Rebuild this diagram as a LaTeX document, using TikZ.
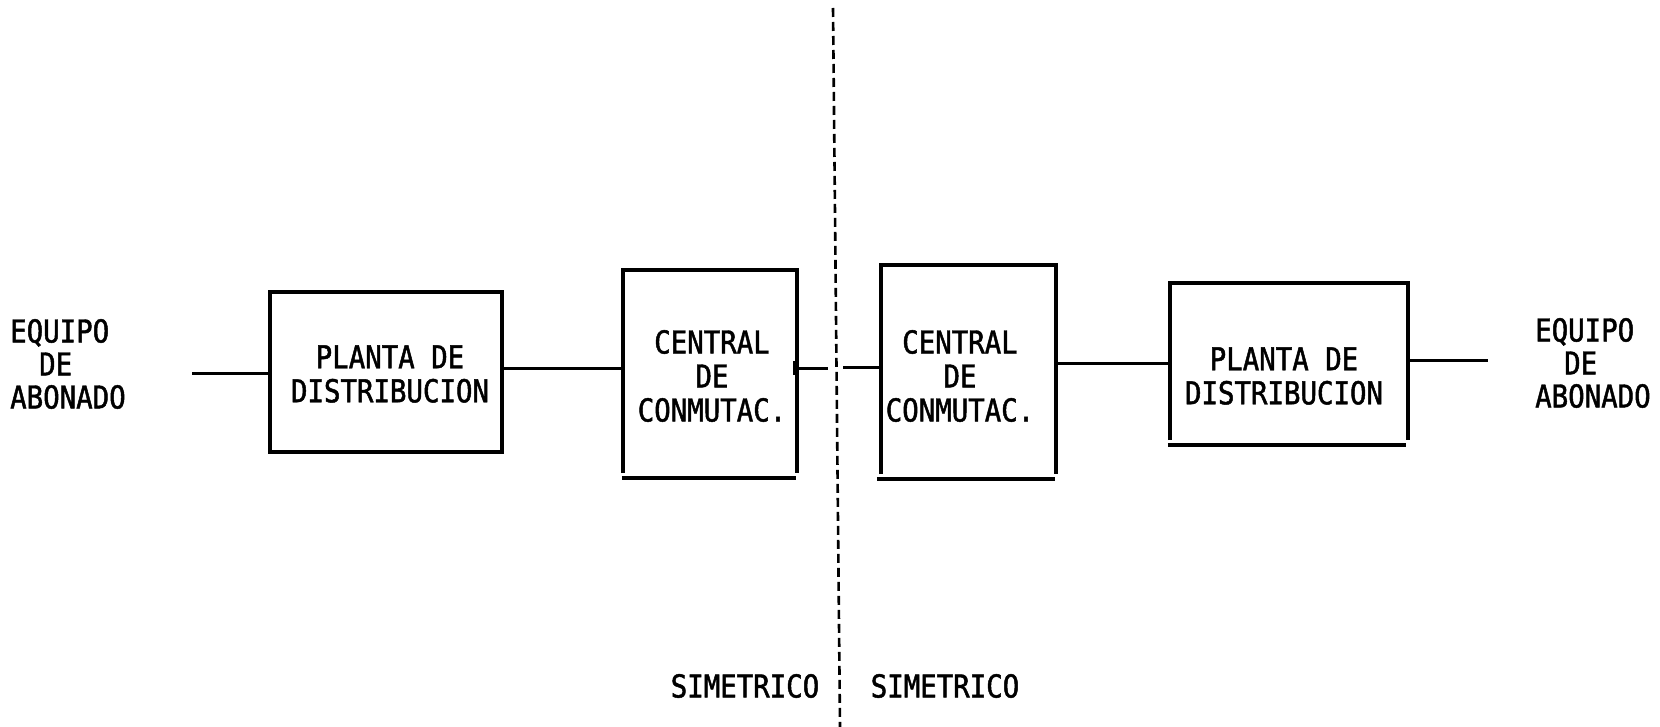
\documentclass[tikz,border=0pt]{standalone}
\usepackage{fontspec}
\newfontfamily\typ[FakeStretch=0.87,FakeBold=1.5]{DejaVu Sans Mono}
\begin{document}
\begin{tikzpicture}[x=1pt,y=-1pt,
  lbl/.style={font=\typ\fontsize{31.5}{34}\selectfont, inner sep=0pt, align=center},
  lbll/.style={font=\typ\fontsize{31.5}{33}\selectfont, inner sep=0pt, align=left},
  box/.style={draw=none, inner sep=0pt, rectangle},
  boxline/.style={line width=3.8pt, line cap=butt, line join=miter},
  wire/.style={line width=3pt},
  axis/.style={line width=2.6pt, dash pattern=on 9pt off 5pt}]
\useasboundingbox (0,0) rectangle (1660,727);

% boxes
\node[box, minimum width=232pt, minimum height=160pt] (p1) at (386,372) {};
\node[box, minimum width=174pt, minimum height=203pt] (c1) at (710,371.5) {};
\node[box, minimum width=175pt, minimum height=209pt] (c2) at (968.5,369.5) {};
\node[box, minimum width=238pt, minimum height=157pt] (p2) at (1289,361.5) {};

\draw[boxline] (p1.north west) rectangle (p1.south east);
\draw[boxline] (c1.south west) -- (c1.north west) -- (c1.north east) -- (c1.south east);
\draw[boxline] ([xshift=-1pt,yshift=-5pt]c1.south west) -- ([xshift=-1pt,yshift=-5pt]c1.south east);
\draw[boxline] (c2.south west) -- (c2.north west) -- (c2.north east) -- (c2.south east);
\draw[boxline] ([xshift=-4pt,yshift=-5pt]c2.south west) -- ([xshift=-1pt,yshift=-5pt]c2.south east);
\draw[boxline] (p2.south west) -- (p2.north west) -- (p2.north east) -- (p2.south east);
\draw[boxline] ([xshift=-2pt,yshift=-5pt]p2.south west) -- ([xshift=-2pt,yshift=-5pt]p2.south east);

% texts
\node[lbl] (tp1) at (390,374) {PLANTA DE\\DISTRIBUCION};
\node[lbl] (tc1) at (712,376) {CENTRAL\\DE\\CONMUTAC.};
\node[lbl] (tc2) at (960,376) {CENTRAL\\DE\\CONMUTAC.};
\node[lbl] (tp2) at (1284,376) {PLANTA DE\\DISTRIBUCION};
\node[lbll, anchor=west] (eqL) at (10,364) {EQUIPO\\\hspace*{29pt}DE\\ABONADO};
\node[lbll, anchor=west] (eqR) at (1535,363) {EQUIPO\\\hspace*{29pt}DE\\ABONADO};
\node[lbl] (s1) at (745,686) {SIMETRICO};
\node[lbl] (s2) at (945,686) {SIMETRICO};

% free ends
\coordinate (wL) at (192,373);
\coordinate (wR) at (1488,360);
\coordinate (m1) at (828,368);
\coordinate (m2) at (843,367);
\coordinate (axT) at (833,8);
\coordinate (axB) at (840,727);

% connectors
\draw[wire] (wL) -- (p1.west |- wL);
\draw[wire] (p1.east |- 0,368) -- (c1.west |- 0,368);
\draw[wire] (c1.east |- m1) -- (m1);
\draw[line width=4pt] ([xshift=-2pt]c1.east |- 0,361) -- ([xshift=-2pt]c1.east |- 0,375);
\draw[wire] (m2) -- (c2.west |- m2);
\draw[wire] (c2.east |- 0,363) -- (p2.west |- 0,363);
\draw[wire] (p2.east |- wR) -- (wR);

% symmetry axis
\draw[axis] (axT) -- (axB);
\end{tikzpicture}
\end{document}
